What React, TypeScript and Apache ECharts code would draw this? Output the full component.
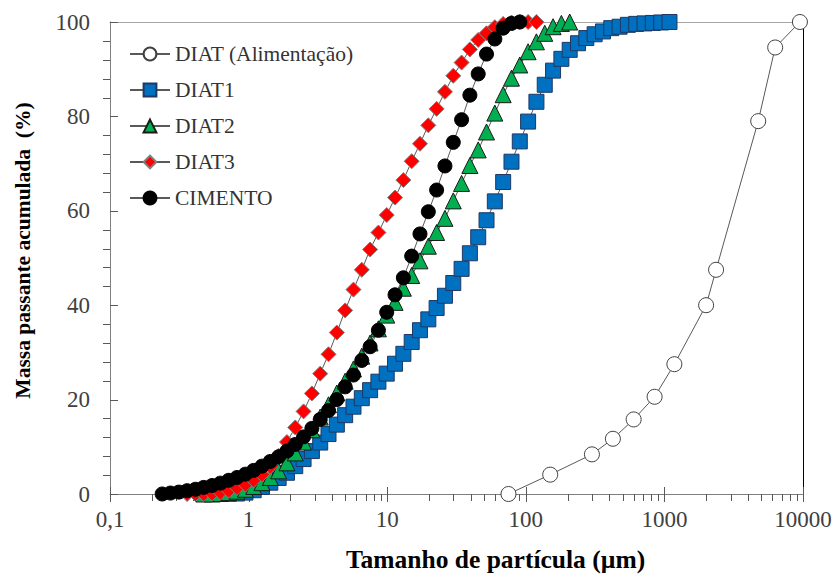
import React, { useEffect, useRef } from 'react';
import * as echarts from 'echarts';

// Particle size grid (µm) shared by the laser-diffraction curves
const sizes = [
  0.238, 0.273, 0.314, 0.360, 0.414, 0.475, 0.545, 0.626, 0.719, 0.825,
  0.948, 1.088, 1.249, 1.434, 1.647, 1.891, 2.171, 2.492, 2.862, 3.286,
  3.772, 4.331, 4.973, 5.710, 6.556, 7.527, 8.642, 9.922, 11.39, 13.08,
  15.02, 17.24, 19.80, 22.73, 26.10, 29.97, 34.41, 39.50, 45.36, 52.08,
  59.79, 68.65, 78.82, 90.50, 103.9, 119.3, 137.0, 157.3, 180.6, 207.3,
  238.0, 273.3, 313.8, 360.3, 413.6, 474.9, 545.3, 626.1, 718.8, 825.3,
  947.6, 1088,
];

// CIMENTO starts at sizes[0]
const cimentoStart = 0;
const cimento = [
  0, 0.2, 0.4, 0.7, 1.0, 1.4, 1.8, 2.3, 2.9, 3.5,
  4.2, 5.0, 5.9, 6.9, 7.9, 9.1, 10.5, 12.1, 13.9, 15.8,
  17.7, 20.0, 22.7, 25.2, 28.3, 31.2, 34.7, 38.5, 42.2, 45.8,
  50.4, 55.1, 59.8, 64.4, 69.5, 74.5, 79.3, 84.5, 89.0, 93.2,
  96.4, 98.7, 99.7, 100,
];

// DIAT3 starts at sizes[3]
const diat3Start = 3;
const diat3 = [
  0, 0, 0, 0.1, 0.3, 0.7, 1.3, 2.0, 2.9, 4.1,
  5.8, 8.1, 11.0, 14.1, 17.5, 21.3, 25.5, 29.6, 34.2, 38.9,
  43.3, 47.5, 51.8, 55.4, 59.1, 62.8, 66.5, 70.5, 74.2, 78.1,
  81.6, 85.2, 88.6, 91.4, 94.2, 96.2, 97.6, 98.9, 99.6, 99.9,
  100, 100, 100,
];

// DIAT2 starts at sizes[5]
const diat2Start = 5;
const diat2 = [
  0, 0, 0.1, 0.3, 0.6, 1.0, 1.6, 2.4, 3.5, 4.9,
  6.6, 8.7, 11.0, 13.6, 16.3, 18.9, 21.4, 23.9, 26.5, 29.2,
  32.0, 35.0, 37.9, 40.6, 43.6, 46.3, 49.4, 52.5, 55.4, 58.4,
  62.1, 65.8, 69.6, 72.9, 76.7, 80.7, 84.6, 88.1, 90.9, 93.7,
  95.8, 97.6, 99.0, 99.7, 100,
];

// DIAT1 starts at sizes[7]
const diat1Start = 7;
const diat1 = [
  0, 0.05, 0.1, 0.3, 0.8, 1.5, 2.4, 3.4, 4.5, 5.9,
  7.4, 9.1, 10.9, 12.7, 14.7, 16.7, 18.5, 20.3, 22.0, 23.8,
  25.5, 27.6, 29.7, 32.2, 34.7, 37.0, 39.4, 42.0, 44.7, 47.7,
  51.0, 54.4, 58.0, 62.0, 66.1, 70.4, 74.7, 78.9, 83.1, 86.7,
  89.7, 92.2, 94.1, 95.5, 96.6, 97.4, 98.0, 98.7, 99.0, 99.4,
  99.6, 99.7, 99.8, 99.9, 100,
];

// DIAT (Alimentação) – sieve analysis
const feedSizes = [75, 150, 300, 425, 600, 850, 1180, 2000, 2360, 4750, 6300, 9500];
const feedPassing = [0, 4.1, 8.4, 11.7, 15.8, 20.6, 27.5, 40.0, 47.5, 79.0, 94.6, 100];

// Axis ticks
const xMajorTicks = [0.1, 1, 10, 100, 1000, 10000];
const xMinorFactors = [2, 3, 4, 5, 6, 7, 8, 9];
const yMajorTicks = [0, 20, 40, 60, 80, 100];
const yMinorStep = 4;

const FONT = "'Liberation Serif', 'Times New Roman', serif";
const LINE = { color: '#595959', width: 1 };
const TICK = '#595959';

const pairs = (start: number, vals: number[]) => vals.map((v, i) => [sizes[start + i], v]);

export default function App() {
  const ref = useRef<HTMLDivElement>(null);
  useEffect(() => {
    document.body.style.margin = '0';
    if (!ref.current) return;
    const chart = echarts.init(ref.current, undefined, { renderer: 'svg' });

    const xTickData: number[][] = [];
    xMajorTicks.forEach((t, i) => {
      xTickData.push([t, 1]);
      if (i < xMajorTicks.length - 1) xMinorFactors.forEach((f) => xTickData.push([t * f, 0]));
    });
    const yTickData: number[][] = [];
    for (let v = 0; v <= 100; v += yMinorStep) {
      yTickData.push([0.1, v, yMajorTicks.includes(v) ? 1 : 0]);
    }

    const sym = (name: string, data: number[][], symbol: string, size: number, fill: string, border: string) => ({
      name,
      type: 'line',
      data,
      symbol,
      symbolSize: size,
      showSymbol: true,
      showAllSymbol: true,
      lineStyle: LINE,
      itemStyle: { color: fill, borderColor: border, borderWidth: 1 },
      emphasis: { disabled: true },
    });

    chart.setOption({
      animation: false,
      grid: { left: 110, right: 33, top: 22, bottom: 81 },
      legend: {
        orient: 'vertical',
        left: 124,
        top: 38,
        itemWidth: 40,
        itemHeight: 16,
        itemGap: 14,
        textStyle: { fontFamily: FONT, fontSize: 21.5, color: '#333' },
        data: ['DIAT (Alimentação)', 'DIAT1', 'DIAT2', 'DIAT3', 'CIMENTO'],
      },
      xAxis: [
        {
          type: 'log',
          logBase: 10,
          min: 0.1,
          max: 10000,
          name: 'Tamanho de partícula (µm)',
          nameLocation: 'middle',
          nameGap: 52,
          nameTextStyle: { fontFamily: FONT, fontSize: 25.5, fontWeight: 'bold', color: '#000', padding: [0, 0, 0, 78] },
          axisLine: { show: true, onZero: false, lineStyle: { color: '#808080', width: 1 } },
          axisTick: { show: false },
          minorTick: { show: false },
          splitLine: { show: false },
          axisLabel: {
            margin: 14,
            fontFamily: FONT,
            fontSize: 23,
            color: '#404040',
            formatter: (v: number) => (v < 1 ? '0,1' : String(Math.round(v))),
          },
        },
        {
          type: 'log',
          logBase: 10,
          min: 0.1,
          max: 10000,
          position: 'top',
          axisLine: { show: true, onZero: false, lineStyle: { color: '#a6a6a6', width: 1 } },
          axisTick: { show: false },
          axisLabel: { show: false },
          splitLine: { show: false },
        },
      ],
      yAxis: [
        {
          type: 'value',
          min: 0,
          max: 100,
          interval: 20,
          name: 'Massa passante acumulada  (%)',
          nameLocation: 'middle',
          nameGap: 76,
          nameTextStyle: { fontFamily: FONT, fontSize: 21.5, fontWeight: 'bold', color: '#000', padding: [0, 0, 0, 15] },
          axisLine: { show: true, onZero: false, lineStyle: { color: '#808080', width: 1 } },
          axisTick: { show: false },
          splitLine: { show: false },
          axisLabel: { margin: 20, fontFamily: FONT, fontSize: 23, color: '#404040' },
        },
        {
          type: 'value',
          min: 0,
          max: 100,
          interval: 20,
          position: 'right',
          axisLine: { show: true, onZero: false, lineStyle: { color: '#000', width: 1 } },
          axisTick: { show: false },
          axisLabel: { show: false },
          splitLine: { show: false },
        },
      ],
      series: [
        {
          type: 'custom',
          silent: true,
          clip: false,
          z: 1,
          xAxisIndex: 0,
          yAxisIndex: 0,
          data: xTickData,
          renderItem: (params: any, api: any) => {
            const p = api.coord([api.value(0), 0]);
            const major = api.value(1) === 1;
            const x = Math.round(p[0]) + 0.5;
            return {
              type: 'line',
              shape: { x1: x, y1: major ? p[1] - 7 : p[1], x2: x, y2: p[1] + (major ? 8 : 7) },
              style: { stroke: TICK, lineWidth: 1 },
            };
          },
        },
        {
          type: 'custom',
          silent: true,
          clip: false,
          z: 1,
          xAxisIndex: 0,
          yAxisIndex: 0,
          data: yTickData,
          renderItem: (params: any, api: any) => {
            const p = api.coord([api.value(0), api.value(1)]);
            const major = api.value(2) === 1;
            const y = Math.round(p[1]) + 0.5;
            return {
              type: 'line',
              shape: { x1: major ? p[0] : p[0] - 7, y1: y, x2: major ? p[0] + 8 : p[0], y2: y },
              style: { stroke: TICK, lineWidth: 1 },
            };
          },
        },
        sym('DIAT (Alimentação)', feedSizes.map((s, i) => [s, feedPassing[i]]), 'circle', 15, '#ffffff', '#404040'),
        sym('DIAT1', pairs(diat1Start, diat1), 'rect', 15, '#0070C0', '#1F3864'),
        sym('DIAT2', pairs(diat2Start, diat2), 'triangle', 16, '#00B050', '#1a1a1a'),
        sym('DIAT3', pairs(diat3Start, diat3), 'diamond', 15, '#FF0000', '#7f7f7f'),
        sym('CIMENTO', pairs(cimentoStart, cimento), 'circle', 14, '#000000', '#000000'),
      ],
    });
    return () => chart.dispose();
  }, []);
  return <div ref={ref} style={{ width: 836, height: 577 }} />;
}
